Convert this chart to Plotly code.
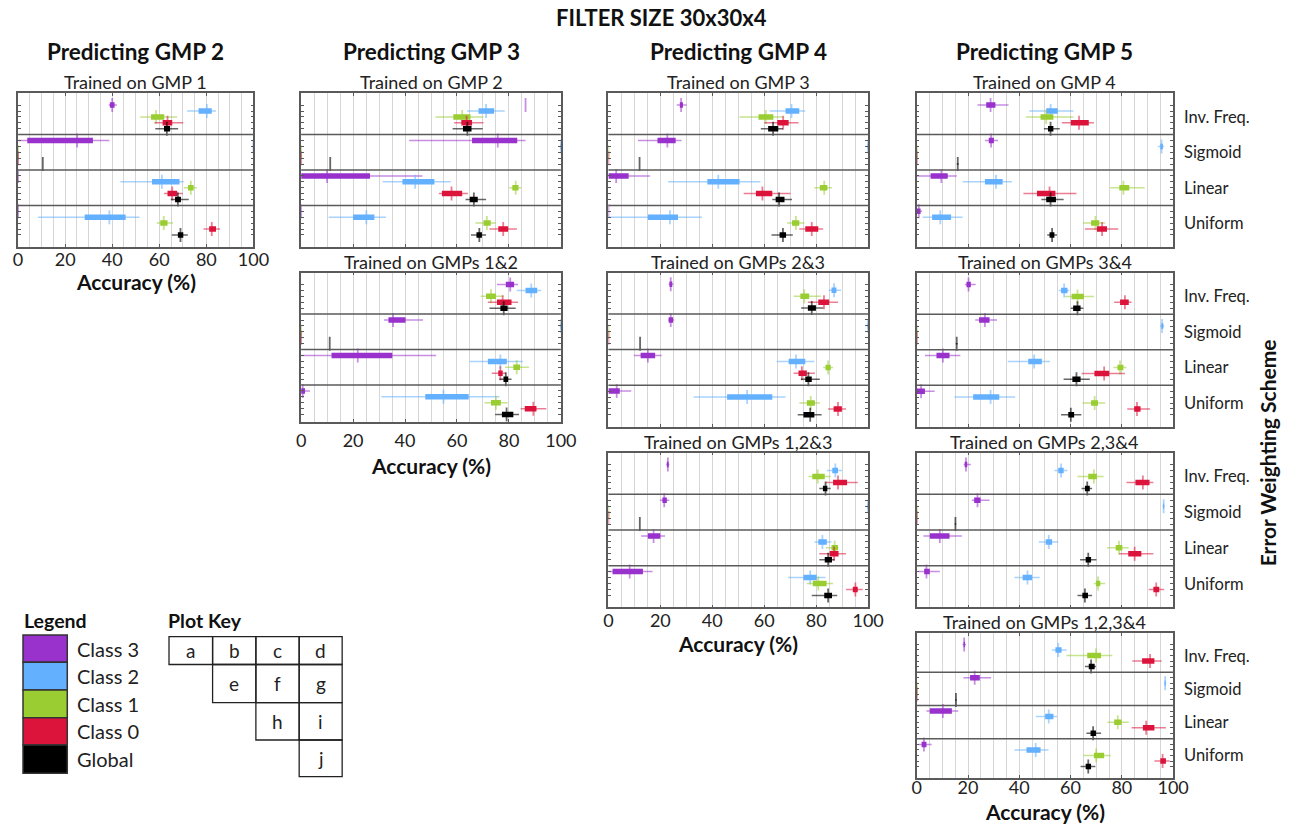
import plotly.graph_objects as go

W, H = 1300, 824
FONT = "Lato"

CLASSES = ["Class 3", "Class 2", "Class 1", "Class 0", "Global"]
SCHEMES = ["Inv. Freq.", "Sigmoid", "Linear", "Uniform"]
COLORS = ["#9932CC", "#63B0FF", "#9ACD32", "#DC143C", "#000000"]
WHISKER_COLORS = ["rgba(153,50,204,0.55)", "rgba(99,176,255,0.55)", "rgba(154,205,50,0.55)",
                  "rgba(220,20,60,0.55)", "rgba(0,0,0,0.6)"]
X_TICKS = [0, 20, 40, 60, 80, 100]

# Each entry: [whisker low, Q1, median, Q3, whisker high]
# order: for each scheme (Inv. Freq., Sigmoid, Linear, Uniform) -> Class 3, Class 2, Class 1, Class 0, Global

# (a) Predicting GMP 2, trained on GMP 1
PANEL_A = [
    [38.5, 39.0, 40.0, 41.0, 42.0], [71.8, 76.7, 80.2, 82.3, 84.1], [51.9, 56.5, 58.6, 62.1, 67.6],
    [57.9, 61.4, 63.5, 65.5, 70.2], [58.3, 62.0, 63.2, 64.6, 68.0],
    [0.0, 3.9, 25.1, 31.8, 38.8], [99.5, 99.8, 100, 100, 100], [0, 0, 0, 0, 0],
    [0, 0, 0, 0, 0], [10.5, 10.5, 10.5, 10.5, 10.5],
    [0, 0, 0, 0, 0], [43.5, 56.9, 61.1, 68.6, 70.4], [70.4, 72.2, 73.4, 74.6, 76.0],
    [62.0, 63.5, 65.5, 67.6, 70.0], [64.9, 66.7, 67.9, 69.2, 72.5],
    [0, 0, 0, 0, 0], [8.4, 28.3, 38.8, 45.7, 51.6], [58.9, 60.4, 61.9, 63.5, 65.8],
    [78.8, 81.2, 82.3, 84.1, 85.8], [65.3, 67.9, 69.0, 70.2, 72.1],
]
# (b) Predicting GMP 3, trained on GMP 2
PANEL_B = [
    [86.4, 86.4, 86.4, 86.4, 86.4], [63.9, 68.3, 71.2, 74.3, 78.4], [51.7, 58.6, 62.0, 65.2, 70.2],
    [58.9, 61.7, 63.7, 65.8, 70.2], [58.3, 62.3, 64.0, 65.6, 69.9],
    [41.6, 65.8, 75.7, 83.2, 86.4], [99.5, 99.8, 100, 100, 100], [0, 0, 0, 0, 0],
    [0, 0, 0, 0, 0], [11.2, 11.2, 11.2, 11.2, 11.2],
    [0, 0, 10.0, 26.5, 46.7], [31.4, 39.0, 43.9, 51.3, 57.6], [80.1, 81.3, 82.6, 83.7, 84.7],
    [53.0, 54.2, 57.9, 62.0, 64.2], [63.3, 64.9, 66.5, 68.0, 71.2],
    [0, 0, 0, 0, 0], [10.6, 20.0, 25.1, 28.2, 32.7], [67.1, 70.2, 71.5, 73.0, 75.0],
    [72.5, 75.9, 77.8, 79.7, 83.1], [65.4, 67.5, 68.6, 69.6, 71.2],
]
# (c) Predicting GMP 4, trained on GMP 3
PANEL_C = [
    [26.3, 27.5, 28.0, 28.7, 30.1], [62.1, 68.2, 70.5, 73.5, 75.8], [50.5, 57.8, 60.6, 63.5, 67.2],
    [60.0, 65.0, 67.3, 69.4, 73.2], [58.7, 61.5, 63.4, 65.4, 67.2],
    [11.4, 18.9, 22.7, 25.9, 28.2], [99.5, 99.8, 100, 100, 100], [0, 0, 0, 0, 0],
    [0, 0, 0, 0, 0], [12.0, 12.0, 12.0, 12.0, 12.0],
    [0, 0, 3.0, 7.8, 16.0], [23.0, 38.1, 42.3, 50.5, 58.5], [79.3, 81.4, 83.1, 84.3, 86.1],
    [52.1, 56.8, 59.3, 63.1, 70.1], [63.1, 64.4, 65.7, 67.8, 70.7],
    [0, 0, 0, 0, 0], [0.0, 15.2, 23.7, 26.8, 36.0], [68.8, 70.7, 72.2, 73.5, 75.5],
    [73.5, 75.8, 78.3, 80.8, 82.7], [62.8, 65.9, 67.2, 68.4, 71.0],
]
# (d) Predicting GMP 5, trained on GMP 4
PANEL_D = [
    [23.7, 27.1, 28.8, 30.7, 35.8], [43.9, 50.5, 52.2, 55.0, 61.1], [42.6, 48.3, 50.5, 53.3, 61.1],
    [56.6, 60.1, 63.3, 67.1, 69.1], [49.6, 51.2, 52.2, 53.3, 55.8],
    [26.6, 28.1, 29.0, 30.1, 31.7], [94.0, 95.0, 95.5, 96.0, 96.5], [0, 0, 0, 0, 0],
    [0, 0, 0, 0, 0], [15.6, 16.0, 16.0, 16.0, 16.4],
    [0.0, 5.4, 9.6, 12.1, 15.6], [17.9, 26.6, 30.9, 33.5, 37.1], [75.4, 79.0, 80.6, 82.9, 88.9],
    [41.6, 46.9, 51.8, 54.1, 62.3], [48.6, 50.5, 52.2, 54.3, 57.3],
    [0.0, 0.0, 0.8, 1.5, 2.0], [2.3, 6.0, 9.2, 13.4, 17.9], [64.8, 68.0, 69.7, 71.2, 73.5],
    [65.6, 70.3, 72.3, 74.2, 78.6], [50.9, 51.8, 52.8, 53.7, 54.7],
]
# (e) Predicting GMP 3, trained on GMPs 1&2
PANEL_E = [
    [75.4, 78.8, 80.5, 82.0, 83.5], [83.0, 86.4, 88.6, 90.9, 92.4], [69.1, 71.2, 73.1, 75.0, 77.9],
    [71.9, 75.4, 77.6, 81.0, 83.5], [72.5, 76.7, 78.0, 79.5, 82.6],
    [31.9, 33.6, 35.4, 40.2, 46.9], [99.5, 99.8, 100, 100, 100], [0, 0, 0, 0, 0],
    [0, 0, 0, 0, 0], [11.0, 11.0, 11.0, 11.0, 11.0],
    [0.0, 11.7, 21.8, 35.1, 52.0], [64.9, 71.9, 76.7, 79.2, 85.4], [78.5, 81.7, 83.0, 84.3, 87.7],
    [73.4, 75.9, 76.7, 77.6, 78.8], [76.3, 77.9, 78.8, 79.7, 81.0],
    [0.0, 0.0, 0.6, 1.5, 3.4], [30.9, 47.8, 54.8, 64.5, 76.3], [70.6, 73.1, 75.0, 76.9, 79.5],
    [84.5, 86.1, 89.4, 90.6, 94.4], [74.7, 77.3, 79.1, 81.7, 83.9],
]
# (f) Predicting GMP 4, trained on GMPs 2&3
PANEL_F = [
    [23.2, 23.5, 24.0, 24.6, 25.0], [84.8, 85.9, 86.9, 87.8, 89.6], [71.3, 73.9, 75.4, 77.3, 81.8],
    [76.8, 80.8, 83.0, 85.0, 88.4], [74.2, 76.8, 78.3, 79.9, 82.7],
    [23.0, 23.2, 24.0, 24.9, 25.3], [99.5, 99.8, 100, 100, 100], [0, 0, 0, 0, 0],
    [0, 0, 0, 0, 0], [12.2, 12.2, 12.2, 12.2, 12.2],
    [9.8, 12.4, 15.2, 18.0, 20.5], [64.8, 69.4, 72.2, 75.8, 79.3], [82.7, 83.6, 84.6, 85.6, 86.5],
    [71.3, 73.2, 74.5, 76.4, 79.5], [74.1, 75.8, 77.0, 78.3, 81.4],
    [0.0, 0.0, 3.2, 4.4, 8.8], [32.8, 45.7, 53.4, 63.1, 68.2], [73.5, 76.4, 77.9, 79.5, 81.4],
    [84.6, 86.7, 88.4, 89.9, 91.5], [72.9, 75.1, 77.7, 79.3, 82.1],
]
# (g) Predicting GMP 5, trained on GMPs 3&4
PANEL_G = [
    [18.8, 19.4, 20.2, 21.1, 23.0], [55.4, 56.3, 57.5, 58.8, 59.5], [57.8, 60.4, 62.7, 65.2, 69.1],
    [77.0, 79.3, 81.2, 82.7, 83.8], [60.1, 61.0, 62.7, 63.9, 65.0],
    [22.8, 24.3, 26.6, 28.4, 31.3], [94.9, 95.4, 95.7, 96.2, 96.5], [0, 0, 0, 0, 0],
    [0, 0, 0, 0, 0], [15.2, 15.6, 15.6, 15.6, 16.0],
    [3.2, 7.7, 10.2, 12.8, 17.0], [35.5, 43.5, 45.8, 48.8, 52.0], [76.7, 78.3, 79.3, 80.6, 81.8],
    [64.3, 69.3, 73.1, 75.1, 81.2], [57.3, 60.7, 62.3, 63.9, 67.5],
    [0.0, 0.0, 1.7, 3.2, 7.0], [14.7, 22.0, 28.8, 32.2, 38.4], [64.6, 68.0, 69.4, 70.7, 73.5],
    [82.1, 84.8, 85.9, 87.3, 91.0], [56.3, 59.1, 60.1, 61.4, 64.2],
]
# (h) Predicting GMP 4, trained on GMPs 1,2&3
PANEL_H = [
    [22.3, 22.5, 22.9, 23.2, 23.5], [84.1, 86.2, 87.4, 88.4, 89.9], [77.0, 78.5, 80.6, 83.3, 85.6],
    [83.7, 86.5, 88.4, 91.9, 96.0], [81.2, 82.6, 83.6, 84.3, 85.6],
    [19.8, 20.8, 21.5, 22.5, 23.4], [99.5, 99.8, 100, 100, 100], [0, 0, 0, 0, 0],
    [0, 0, 0, 0, 0], [12.1, 12.1, 12.1, 12.1, 12.1],
    [12.6, 15.2, 17.4, 20.0, 21.8], [79.3, 80.8, 82.4, 84.1, 85.9], [83.7, 85.9, 87.1, 88.4, 88.6],
    [81.2, 85.2, 86.9, 88.6, 91.5], [81.2, 83.3, 84.6, 86.1, 87.1],
    [0.0, 1.6, 8.2, 13.3, 17.0], [69.2, 75.1, 77.7, 80.2, 83.6], [76.4, 78.7, 80.8, 84.0, 86.5],
    [91.5, 94.1, 95.1, 96.0, 97.9], [78.3, 83.1, 84.6, 86.1, 88.1],
]
# (i) Predicting GMP 5, trained on GMPs 2,3&4
PANEL_I = [
    [18.3, 18.7, 19.2, 19.7, 21.1], [53.7, 55.2, 56.3, 57.3, 58.8], [62.7, 66.9, 69.1, 70.3, 72.9],
    [81.8, 85.3, 88.2, 90.8, 92.3], [64.3, 65.6, 66.5, 67.5, 68.4],
    [21.5, 22.4, 23.7, 24.9, 28.4], [95.9, 96.1, 96.3, 96.5, 96.7], [0, 0, 0, 0, 0],
    [0, 0, 0, 0, 0], [14.8, 15.1, 15.1, 15.1, 15.4],
    [2.6, 5.1, 9.0, 12.8, 17.6], [47.6, 50.3, 51.5, 52.8, 55.2], [74.2, 77.6, 78.9, 80.2, 82.7],
    [79.0, 82.5, 85.0, 87.6, 92.3], [63.7, 65.9, 66.9, 68.0, 70.1],
    [0.6, 2.9, 3.8, 5.1, 9.0], [38.1, 41.3, 43.2, 45.0, 48.0], [69.1, 69.9, 70.7, 71.6, 73.5],
    [90.5, 92.3, 93.4, 94.6, 96.5], [62.7, 64.6, 65.6, 66.8, 68.4],
]
# (j) Predicting GMP 5, trained on GMPs 1,2,3&4
PANEL_J = [
    [17.9, 18.3, 18.5, 18.8, 19.2], [52.7, 54.1, 55.2, 56.5, 58.4], [58.4, 66.5, 69.9, 71.9, 76.3],
    [84.1, 87.9, 91.0, 92.7, 95.5], [65.6, 67.1, 68.0, 69.4, 69.9],
    [18.2, 20.8, 22.6, 24.6, 29.0], [96.5, 96.7, 96.9, 97.1, 97.3], [0, 0, 0, 0, 0],
    [0, 0, 0, 0, 0], [15.0, 15.3, 15.3, 15.3, 15.6],
    [3.8, 5.1, 10.2, 13.7, 16.2], [46.4, 50.1, 51.5, 53.3, 54.7], [74.4, 77.0, 78.4, 79.9, 82.7],
    [83.8, 88.2, 89.5, 92.7, 97.2], [66.2, 67.8, 68.8, 69.9, 71.9],
    [0.6, 1.9, 2.8, 3.8, 5.8], [38.1, 42.8, 46.4, 48.3, 51.4], [65.0, 69.1, 70.0, 73.1, 75.7],
    [92.7, 95.0, 95.9, 97.2, 98.7], [63.9, 65.9, 66.9, 68.0, 69.7],
]

SUBTITLES = ["Trained on GMP 1", "Trained on GMP 2", "Trained on GMP 3", "Trained on GMP 4",
             "Trained on GMPs 1&2", "Trained on GMPs 2&3", "Trained on GMPs 3&4",
             "Trained on GMPs 1,2&3", "Trained on GMPs 2,3&4", "Trained on GMPs 1,2,3&4"]
COLUMN_TITLES = ["Predicting GMP 2", "Predicting GMP 3", "Predicting GMP 4", "Predicting GMP 5"]
PANEL_DATA = [PANEL_A, PANEL_B, PANEL_C, PANEL_D, PANEL_E, PANEL_F, PANEL_G, PANEL_H, PANEL_I, PANEL_J]
KEY_LETTERS = ["a", "b", "c", "d", "e", "f", "g", "h", "i", "j"]

# ---------------- layout (pixel boxes: left, right, top, bottom, y-range bottom) -------------
PANEL_BOX = [
    (13.3, 252.5, 93.3, 246.7, 25), (301.0, 565.0, 93.3, 246.7, 25),
    (613.3, 877.3, 93.3, 246.7, 25), (926.7, 1187.3, 93.3, 246.7, 25),
    (301.0, 565.0, 272.7, 421.7, 24.2), (613.3, 877.3, 272.5, 426.7, 25),
    (926.7, 1187.3, 272.7, 426.7, 25),
    (613.3, 877.3, 452.7, 607.3, 25), (926.7, 1187.3, 452.7, 607.3, 25),
    (926.7, 1187.3, 633.3, 777.7, 25),
]
# panel index -> (y of "Accuracy (%)" title, tick-label standoff)
BOTTOM_PANELS = {0: (282, -4), 4: (465, 2), 7: (643, -4), 9: (811, -7)}
COLUMN_PANEL = [0, 1, 2, 3]
RIGHT_PANELS = [3, 6, 8, 9]
BORDER = "#5a5a5a"
GRID = "#d6d6d6"


def px(x):
    return x / W


def py(y):
    return 1 - y / H


fig = go.Figure()
layout = {}
shapes = []
annotations = []

for p, data in enumerate(PANEL_DATA):
    n = "" if p == 0 else str(p + 1)
    xa, ya = "x" + n, "y" + n
    l, r, t, b, ybot = PANEL_BOX[p]
    for k in range(5):
        wx, wy, bx, by, mx, my = [], [], [], [], [], []
        for s in range(4):
            lo, q1, med, q3, hi = data[s * 5 + k]
            pos = 1 + 6 * s + k
            wx += [lo, hi, None]
            wy += [pos, pos, None]
            bx += [q1, q3, None]
            by += [pos, pos, None]
            mx.append(med)
            my.append(pos)
        fig.add_trace(go.Scatter(x=wx, y=wy, xaxis=xa, yaxis=ya, mode="lines",
                                 line=dict(color=WHISKER_COLORS[k], width=1.5),
                                 showlegend=False, hoverinfo="skip"))
        fig.add_trace(go.Scatter(x=bx, y=by, xaxis=xa, yaxis=ya, mode="lines",
                                 line=dict(color=COLORS[k], width=5.5),
                                 showlegend=False, hoverinfo="skip"))
        fig.add_trace(go.Scatter(x=mx, y=my, xaxis=xa, yaxis=ya, mode="markers",
                                 marker=dict(symbol="line-ns", size=10,
                                             line=dict(color=WHISKER_COLORS[k], width=1.8)),
                                 name=CLASSES[k], showlegend=False))
    ticks = [1 + 6 * s + k for s in range(4) for k in range(5)]
    xaxis = dict(
        domain=[px(l), px(r)], anchor=ya, range=[0, 100], tickvals=X_TICKS,
        showgrid=True, gridcolor=GRID, gridwidth=1,
        minor=dict(dtick=5, tick0=0, showgrid=True, gridcolor=GRID, gridwidth=1, ticks=""),
        showline=True, linecolor=BORDER, linewidth=1.5, mirror="ticks",
        ticks="inside", ticklen=3, tickcolor=BORDER,
        showticklabels=p in BOTTOM_PANELS, tickfont=dict(family=FONT, size=18, color="#222"),
        zeroline=False, fixedrange=True)
    if p in BOTTOM_PANELS:
        xaxis["ticklabelstandoff"] = BOTTOM_PANELS[p][1]
    layout["xaxis" + n] = xaxis
    layout["yaxis" + n] = dict(
        domain=[py(b), py(t)], anchor=xa, range=[ybot, -1], tickvals=ticks,
        showticklabels=False, showgrid=False, zeroline=False,
        showline=True, linecolor=BORDER, linewidth=1.5, mirror="ticks",
        ticks="inside", ticklen=3, tickcolor=BORDER, fixedrange=True)
    for sep in (6, 12, 18):
        shapes.append(dict(type="line", xref=xa + " domain", x0=0, x1=1, yref=ya, y0=sep, y1=sep,
                           line=dict(color=BORDER, width=1.5), layer="above"))
    cx = (l + r) / 2
    annotations.append(dict(text=SUBTITLES[p], x=px(cx), y=py(t - 11), xref="paper", yref="paper",
                            xanchor="center", yanchor="middle", showarrow=False,
                            font=dict(family=FONT, size=18, color="#222")))
    if p in COLUMN_PANEL:
        annotations.append(dict(text="<b>" + COLUMN_TITLES[p] + "</b>", x=px(cx), y=py(52),
                                xref="paper", yref="paper", xanchor="center", yanchor="middle",
                                showarrow=False, font=dict(family=FONT, size=22.5, color="#111")))
    if p in BOTTOM_PANELS:
        annotations.append(dict(text="<b>Accuracy (%)</b>", x=px(cx), y=py(BOTTOM_PANELS[p][0]),
                                xref="paper", yref="paper", xanchor="center", yanchor="middle",
                                showarrow=False, font=dict(family=FONT, size=21, color="#111")))
    if p in RIGHT_PANELS:
        for s, name in enumerate(SCHEMES):
            annotations.append(dict(text=name, x=px(r + 9), y=3 + 6 * s, xref="paper", yref=ya,
                                    xanchor="left", yanchor="middle", showarrow=False,
                                    font=dict(family=FONT, size=16.5, color="#222")))

# Title and side label
annotations.append(dict(text="<b>FILTER SIZE 30x30x4</b>", x=px(667), y=py(17), xref="paper",
                        yref="paper", xanchor="center", yanchor="middle", showarrow=False,
                        font=dict(family=FONT, size=22, color="#111")))
annotations.append(dict(text="<b>Error Weighting Scheme</b>", x=px(1283), y=py(453), xref="paper",
                        yref="paper", xanchor="center", yanchor="middle", showarrow=False,
                        textangle=-90, font=dict(family=FONT, size=21, color="#111")))

# Legend block
annotations.append(dict(text="<b>Legend</b>", x=px(17), y=py(620), xref="paper", yref="paper",
                        xanchor="left", yanchor="middle", showarrow=False,
                        font=dict(family=FONT, size=19.5, color="#111")))
LEG_Y = [635, 662.3, 690, 717.7, 745, 773.3]
for k in range(5):
    shapes.append(dict(type="rect", xref="paper", yref="paper", x0=px(18.3), x1=px(63.3),
                       y0=py(LEG_Y[k + 1]), y1=py(LEG_Y[k]), fillcolor=COLORS[k],
                       line=dict(color="#333", width=1.5)))
    annotations.append(dict(text=CLASSES[k], x=px(71), y=py((LEG_Y[k] + LEG_Y[k + 1]) / 2),
                            xref="paper", yref="paper", xanchor="left", yanchor="middle",
                            showarrow=False, font=dict(family=FONT, size=20, color="#222")))

# Plot key block
annotations.append(dict(text="<b>Plot Key</b>", x=px(164), y=py(620), xref="paper", yref="paper",
                        xanchor="left", yanchor="middle", showarrow=False,
                        font=dict(family=FONT, size=19.5, color="#111")))
KX = [166.7, 211.0, 255.0, 299.0, 342.7]
KY = [636.7, 664.5, 702.7, 740.0, 776.7]
KEY_CELLS = [(0, 0), (0, 1), (0, 2), (0, 3), (1, 1), (1, 2), (1, 3), (2, 2), (2, 3), (3, 3)]
for letter, (row, col) in zip(KEY_LETTERS, KEY_CELLS):
    shapes.append(dict(type="rect", xref="paper", yref="paper", x0=px(KX[col]), x1=px(KX[col + 1]),
                       y0=py(KY[row + 1]), y1=py(KY[row]), line=dict(color="#222", width=1.3)))
    annotations.append(dict(text=letter, x=px((KX[col] + KX[col + 1]) / 2),
                            y=py((KY[row] + KY[row + 1]) / 2), xref="paper", yref="paper",
                            xanchor="center", yanchor="middle", showarrow=False,
                            font=dict(family=FONT, size=19, color="#222")))

fig.update_layout(
    width=W, height=H, margin=dict(l=0, r=0, t=0, b=0),
    paper_bgcolor="white", plot_bgcolor="white",
    shapes=shapes, annotations=annotations, showlegend=False,
    font=dict(family=FONT, color="#222"),
    **layout,
)

fig.write_html("out.html")
